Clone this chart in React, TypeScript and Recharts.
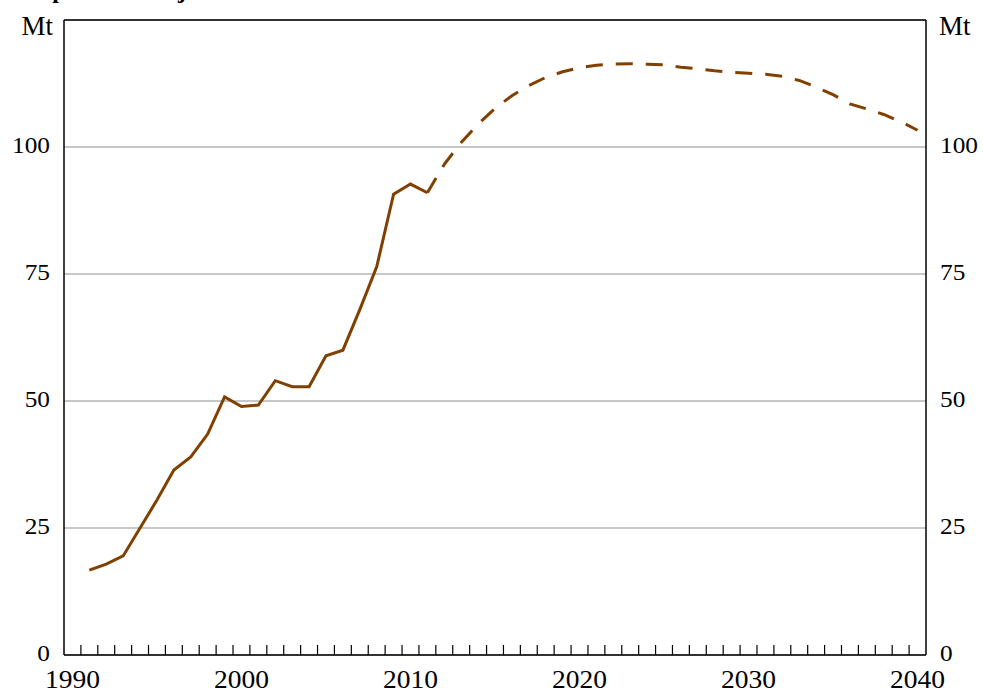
import React from 'react';
import { LineChart, Line, XAxis, YAxis, CartesianGrid, ReferenceLine } from 'recharts';

const actualYears = [1991, 1992, 1993, 1994, 1995, 1996, 1997, 1998, 1999, 2000, 2001, 2002, 2003, 2004, 2005, 2006, 2007, 2008, 2009, 2010, 2011];
const actualValues = [16.7, 17.9, 19.5, 25.0, 30.5, 36.4, 39.0, 43.5, 50.8, 48.9, 49.2, 54.0, 52.8, 52.8, 58.9, 60.0, 68.0, 76.4, 90.7, 92.7, 91.0];

const projectionYears = [2011, 2012, 2013, 2014, 2015, 2016, 2017, 2018, 2019, 2020, 2021, 2022, 2023, 2024, 2025, 2026, 2027, 2028, 2029, 2030, 2031, 2032, 2033, 2034, 2035, 2036, 2037, 2038, 2039, 2040];
const projectionValues = [91.0, 96.6, 100.9, 104.5, 107.6, 110.1, 112.1, 113.7, 114.8, 115.6, 116.1, 116.3, 116.4, 116.3, 116.2, 115.7, 115.4, 115.0, 114.7, 114.5, 114.3, 113.9, 113.1, 111.8, 110.3, 108.5, 107.5, 106.4, 105.0, 103.3];

const xDomain = [1990, 2041];
const yearTicks = Array.from({ length: 52 }, (_, i) => 1990 + i);
const yTicks = [0, 25, 50, 75, 100, 125];
const unitLabel = 'Mt';
const title = "Graph 5: Projections for Steel Use in China's Urban Residential Construction";

const LINE_COLOR = '#804000';
const FONT = '"Liberation Serif", "Times New Roman", Times, serif';

// each year's value is plotted at the middle of its year band
const rows = (() => {
  const map = new Map<number, any>();
  const get = (yr: number) => {
    if (!map.has(yr)) map.set(yr, { x: yr + 0.5 });
    return map.get(yr);
  };
  actualYears.forEach((yr, i) => { get(yr).actual = actualValues[i]; });
  projectionYears.forEach((yr, i) => { get(yr).projection = projectionValues[i]; });
  return Array.from(map.values()).sort((a, b) => a.x - b.x);
})();

const makeYTick = (side: 'L' | 'R') => (props: any) => {
  const { x, y, payload } = props;
  const isUnit = payload.value === 125;
  if (isUnit) {
    return (
      <text
        x={side === 'L' ? x + 3 : x - 1}
        y={y}
        dy={14.5}
        textAnchor={side === 'L' ? 'end' : 'start'}
        fontFamily={FONT}
        fontSize={27}
        fill="#000"
      >
        {unitLabel}
      </text>
    );
  }
  return (
    <text
      transform={`translate(${x},${y}) scale(1.1,1)`}
      textAnchor={side === 'L' ? 'end' : 'start'}
      dy={6}
      fontFamily={FONT}
      fontSize={23}
      fill="#000"
    >
      {String(payload.value)}
    </text>
  );
};

const YearTick = (props: any) => {
  const { x, y, payload, width } = props;
  const v = payload.value;
  const halfYear = width / (xDomain[1] - xDomain[0]) / 2;
  const showMark = v > xDomain[0] && v < xDomain[1];
  const showLabel = v % 10 === 0 && v < xDomain[1];
  return (
    <g>
      {showMark && <line x1={x} x2={x} y1={y} y2={y - 10} stroke="#000" strokeWidth={1.2} />}
      {showLabel && (
        <text
          transform={`translate(${x + halfYear},${y + 33}) scale(1.1,1)`}
          textAnchor="middle"
          fontFamily={FONT}
          fontSize={25}
          fill="#000"
        >
          {v}
        </text>
      )}
    </g>
  );
};

export default function App() {
  return (
    <div style={{ position: 'absolute', left: 0, top: 0, width: 983, height: 693, background: '#fff', overflow: 'hidden' }}>
      <div
        style={{
          position: 'absolute',
          left: 11,
          top: -22,
          width: 946,
          fontFamily: FONT,
          fontWeight: 'bold',
          fontSize: 24,
          lineHeight: '24px',
          whiteSpace: 'nowrap',
          textAlign: 'justify',
          textAlignLast: 'justify',
        }}
      >
        {title}
      </div>
      <LineChart width={983} height={693} data={rows} margin={{ top: 20, right: 0, bottom: 0, left: 0 }}>
        <CartesianGrid xAxisId="yr" yAxisId="L" vertical={false} stroke="#b4b4b4" strokeWidth={1.3} />
        <XAxis
          xAxisId="yr"
          dataKey="x"
          type="number"
          domain={xDomain}
          ticks={yearTicks}
          allowDataOverflow
          interval={0}
          height={38}
          tickSize={0}
          tickMargin={0}
          tickLine={false}
          axisLine={{ stroke: '#000', strokeWidth: 1.5 }}
          tick={YearTick}
        />
        <YAxis
          yAxisId="L"
          orientation="left"
          domain={[0, 125]}
          ticks={yTicks}
          allowDataOverflow
          interval={0}
          width={64}
          tickSize={0}
          tickMargin={14}
          tickLine={false}
          axisLine={{ stroke: '#000', strokeWidth: 1.5 }}
          tick={makeYTick('L')}
        />
        <YAxis
          yAxisId="R"
          orientation="right"
          domain={[0, 125]}
          ticks={yTicks}
          allowDataOverflow
          interval={0}
          width={57}
          tickSize={0}
          tickMargin={14}
          tickLine={false}
          axisLine={{ stroke: '#000', strokeWidth: 1.5 }}
          tick={makeYTick('R')}
        />
        <ReferenceLine xAxisId="yr" yAxisId="L" y={125} stroke="#000" strokeWidth={1.5} />
        <Line
          xAxisId="yr"
          yAxisId="L"
          dataKey="actual"
          type="linear"
          stroke={LINE_COLOR}
          strokeWidth={3}
          dot={false}
          activeDot={false}
          connectNulls={false}
          isAnimationActive={false}
        />
        <Line
          xAxisId="yr"
          yAxisId="L"
          dataKey="projection"
          type="linear"
          stroke={LINE_COLOR}
          strokeWidth={3}
          strokeDasharray="17 13"
          dot={false}
          activeDot={false}
          connectNulls={false}
          isAnimationActive={false}
        />
      </LineChart>
    </div>
  );
}
